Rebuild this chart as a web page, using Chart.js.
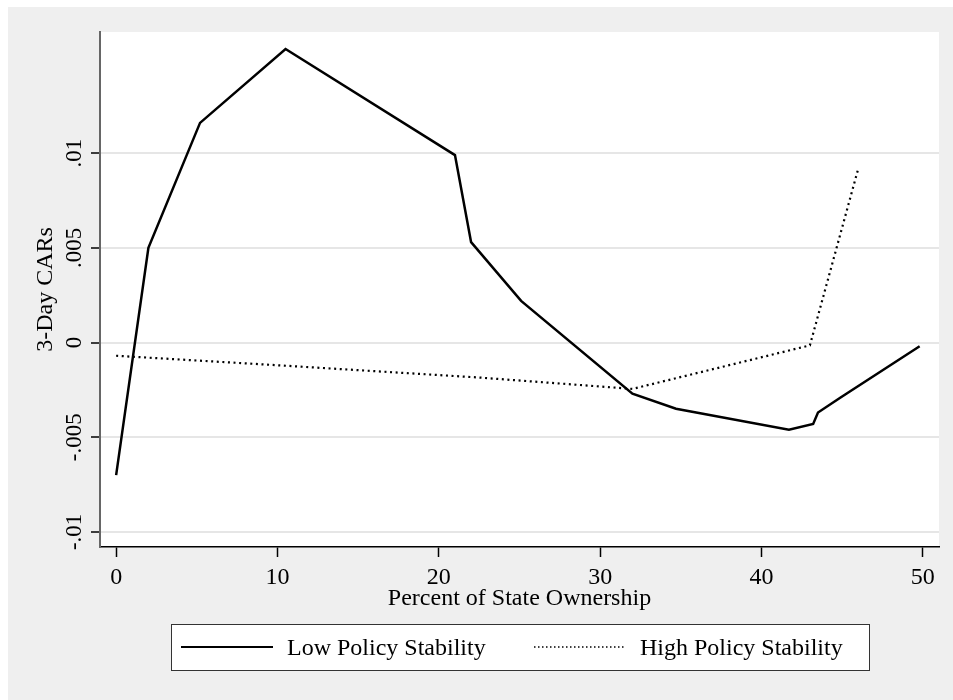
<!DOCTYPE html>
<html>
<head>
<meta charset="utf-8">
<script src="https://cdn.jsdelivr.net/npm/chart.js@4.4.1/dist/chart.umd.min.js"></script>
<style>
  html, body { margin: 0; padding: 0; background: #fff; }
  canvas { display: block; }
</style>
</head>
<body>
<canvas id="chart" width="953" height="700"></canvas>
<script>
// values
const lowX = [0, 2, 5.2, 10.5, 21, 22, 25.1, 32, 34.7, 41.7, 43.2, 43.5, 44.9, 49.8];
const lowY = [-0.0070, 0.0050, 0.0116, 0.0155, 0.0099, 0.0053, 0.0022, -0.0027, -0.0035, -0.0046, -0.0043, -0.0037, -0.0029, -0.0002];
const highX = [0, 10, 22.5, 32, 43, 46];
const highY = [-0.0007, -0.0012, -0.00185, -0.00245, -0.00015, 0.0092];
const xTicks = [0, 10, 20, 30, 40, 50];
const yTicks = [-0.01, -0.005, 0, 0.005, 0.01];
const yTickLabels = ['-.01', '-.005', '0', '.005', '.01'];
const seriesNames = ['Low Policy Stability', 'High Policy Stability'];

const SERIF = '"Liberation Serif", "DejaVu Serif", serif';
const pts = (xs, ys) => xs.map((x, i) => ({x: x, y: ys[i]}));

const backdrop = {
  id: 'backdrop',
  beforeDraw(c) {
    const ctx = c.ctx, a = c.chartArea;
    ctx.save();
    ctx.fillStyle = '#ffffff';
    ctx.fillRect(0, 0, c.width, c.height);
    ctx.fillStyle = '#efefef';
    ctx.fillRect(8, 7, c.width - 8, c.height - 7);
    ctx.fillStyle = '#ffffff';
    ctx.fillRect(a.left, a.top, a.right - a.left, a.bottom - a.top);
    ctx.restore();
  }
};

// stata-style boxed legend under the x title
const boxLegend = {
  id: 'boxLegend',
  afterDraw(c) {
    const ctx = c.ctx, a = c.chartArea;
    const cx = (a.left + a.right) / 2;
    const left = Math.round(cx - 349), top = 624, w = 698, h = 46;
    const midY = top + 23;
    ctx.save();
    ctx.fillStyle = '#fff';
    ctx.fillRect(left, top, w, h);
    ctx.strokeStyle = '#333';
    ctx.lineWidth = 1;
    ctx.strokeRect(left + 0.5, top + 0.5, w, h);
    const keyStarts = [left + 10, left + 363];
    ctx.font = '24px ' + SERIF;
    ctx.textBaseline = 'middle';
    ctx.fillStyle = '#000';
    c.data.datasets.forEach((ds, i) => {
      const k = keyStarts[i];
      ctx.beginPath();
      ctx.setLineDash(i ? [1.5, 2.5] : []);
      ctx.lineWidth = i ? 1.5 : 2.2;
      ctx.strokeStyle = ds.borderColor;
      ctx.moveTo(k, midY);
      ctx.lineTo(k + 92, midY);
      ctx.stroke();
      ctx.setLineDash([]);
      ctx.fillText(ds.label, k + 106, midY + 1.5);
    });
    ctx.restore();
  }
};

new Chart(document.getElementById('chart'), {
  type: 'line',
  data: {
    datasets: [
      {label: seriesNames[0], data: pts(lowX, lowY), borderColor: '#000', borderWidth: 2.5, pointRadius: 0, tension: 0, fill: false},
      {label: seriesNames[1], data: pts(highX, highY), borderColor: '#000', borderWidth: 2.2, borderDash: [2, 3.6], pointRadius: 0, tension: 0, fill: false}
    ]
  },
  options: {
    responsive: false,
    animation: false,
    layout: {padding: {left: 8, top: 32, right: 14, bottom: 73}},
    plugins: {legend: {display: false}, tooltip: {enabled: false}},
    scales: {
      x: {
        type: 'linear',
        min: -1,
        max: 51,
        afterBuildTicks: s => { s.ticks = xTicks.map(v => ({value: v})); },
        afterFit: s => { s.height = 80; },
        grid: {drawOnChartArea: false, tickLength: 10, tickColor: '#000', tickWidth: 1.5},
        border: {color: '#000', width: 1.5},
        ticks: {color: '#000', font: {family: SERIF, size: 24}, padding: 6, maxRotation: 0, autoSkip: false},
        title: {display: true, text: 'Percent of State Ownership', color: '#000', font: {family: SERIF, size: 24}, padding: {top: 0, bottom: 13.6}}
      },
      y: {
        type: 'linear',
        min: -0.0108,
        max: 0.0164,
        afterBuildTicks: s => { s.ticks = yTicks.map(v => ({value: v})); },
        afterFit: s => { s.width = 92; },
        grid: {color: '#e6e6e6', lineWidth: 2, tickLength: 9, tickColor: '#000', tickWidth: 1.5},
        border: {color: '#666', width: 2},
        ticks: {
          color: '#000', font: {family: SERIF, size: 23}, padding: -8,
          minRotation: 90, maxRotation: 90, crossAlign: 'center', autoSkip: false,
          callback: (v, i) => yTickLabels[i]
        },
        title: {display: true, text: '3-Day CARs', color: '#000', font: {family: SERIF, size: 24}, padding: {top: 23.5, bottom: 0}}
      }
    }
  },
  plugins: [backdrop, boxLegend]
});
</script>
</body>
</html>
